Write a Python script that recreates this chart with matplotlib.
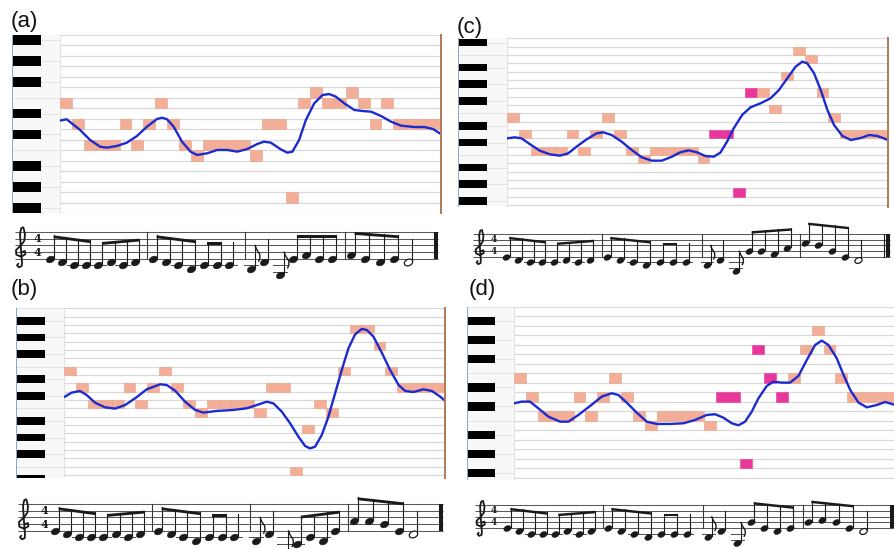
import numpy as np
import matplotlib
matplotlib.use("Agg")
import matplotlib.pyplot as plt
from matplotlib.patches import Rectangle, Polygon
from matplotlib.path import Path
from matplotlib.transforms import Affine2D
from matplotlib import font_manager
from matplotlib.ft2font import FT2Font

plt.rcParams['font.family'] = ['Liberation Sans', 'DejaVu Sans']

W, H = 895, 549
fig = plt.figure(figsize=(W / 100, H / 100), dpi=100)

# ---------------------------------------------------------------- data
# melody (MIDI pitch, duration in eighth notes); first two bars shared
intro_pitches = [64, 62, 60, 60, 60, 62, 60, 62, 64, 62, 60, 59, 60, 60, 60]
intro_durs = [1, 1, 1, 1, 1, 1, 1, 1, 1, 1, 1, 1, 1, 1, 2]
end_durs = [1, 2, 1, 1, 1, 1, 1, 1, 1, 1, 1, 4]
a_end_pitches = [59, 62, 55, 64, 65, 64, 64, 65, 64, 62, 64, 62]
b_end_pitches = [59, 62, 52, 57, 60, 59, 64, 69, 69, 67, 64, 62]
c_end_pitches = [59, 62, 55, 67, 67, 65, 69, 72, 71, 67, 64, 62]
d_end_pitches = [59, 62, 55, 67, 64, 62, 64, 67, 69, 67, 64, 62]
a_end_edited = [0, 0, 0, 0, 0, 0, 0, 0, 0, 0, 0, 0]
b_end_edited = [0, 0, 0, 0, 0, 0, 0, 0, 0, 0, 0, 0]
c_end_edited = [0, 1, 1, 1, 0, 0, 0, 0, 0, 0, 0, 0]
d_end_edited = [0, 1, 1, 1, 1, 1, 0, 0, 0, 0, 0, 0]

# pitch contours (time in eighths, pitch in semitones)
a_curve_t = [0, 0.56, 1.69, 2.53, 3.37, 3.93, 4.78, 5.62, 6.46, 7.3, 8.15, 8.57, 8.99, 9.55, 10.25,
             10.96, 11.52, 12.36, 13.2, 14.04, 14.89, 15.73, 16.57, 17.13, 17.7, 18.54, 19.1, 19.52,
             20.08, 20.65, 21.35, 22.05, 22.61, 23.17, 23.88, 24.72, 25.42, 26.12, 26.97, 27.81,
             28.65, 29.78, 30.62, 31.32, 32]
a_curve_p = [62.32, 62.45, 61.43, 60.47, 59.83, 59.74, 59.9, 60.22, 60.85, 61.74, 62.48, 62.6, 62.45,
             61.74, 60.31, 59.36, 59.04, 59.2, 59.52, 59.52, 59.36, 59.61, 60.09, 60.31, 60.22, 59.58,
             59.26, 59.36, 60.47, 62.38, 63.97, 64.77, 64.86, 64.61, 63.97, 63.34, 63.24, 63.18, 62.76,
             62.22, 61.84, 61.71, 61.71, 61.52, 61.04]
b_curve_t = [0.08, 0.64, 1.34, 1.9, 2.61, 3.45, 4.29, 5.13, 5.97, 6.95, 8.07, 8.63, 9.33, 10.17, 11.01,
             11.71, 12.83, 14.23, 15.35, 16.19, 17.03, 17.59, 18.29, 18.99, 19.69, 20.25, 20.67, 21.09,
             21.65, 22.21, 22.77, 23.33, 23.89, 24.45, 25.01, 25.43, 25.99, 26.69, 27.39, 28.1, 28.66,
             29.36, 30.2, 30.9, 31.6, 32]
b_curve_p = [60.9, 61.38, 61.58, 61.1, 60.18, 59.62, 59.47, 59.9, 60.7, 61.78, 62.38, 62.3, 61.62, 60.3,
             59.31, 58.99, 59.19, 59.31, 59.51, 59.9, 60.3, 60.1, 59.11, 57.71, 56.11, 54.99, 54.71,
             54.91, 56.31, 58.51, 61.3, 64.1, 66.69, 68.37, 69.01, 68.89, 68.09, 66.17, 64.1, 62.3,
             61.58, 61.46, 61.78, 61.58, 60.9, 60.42]
c_curve_t = [0, 0.65, 1.21, 1.91, 2.75, 3.6, 4.44, 5.14, 5.84, 6.69, 7.53, 8.09, 8.79, 9.63, 10.48,
             11.32, 12.16, 13.01, 13.85, 14.55, 15.25, 15.96, 16.66, 17.36, 17.92, 18.48, 19.04, 19.75,
             20.45, 21.29, 22.13, 22.84, 23.54, 24.24, 24.8, 25.22, 25.79, 26.35, 26.91, 27.47, 28.17,
             28.88, 29.72, 30.42, 31.12, 32]
c_curve_p = [61.5, 61.62, 61.5, 60.82, 60.02, 59.58, 59.42, 59.7, 60.5, 61.38, 62.1, 62.22, 61.9, 61.1,
             60.1, 59.22, 58.82, 58.82, 59.3, 59.82, 60.06, 59.82, 59.38, 59.3, 59.78, 61.1, 62.7, 64.3,
             65.22, 65.7, 66.3, 67.3, 68.7, 70.1, 70.7, 70.5, 69.3, 67.3, 64.9, 63.1, 61.78, 61.3,
             61.54, 61.9, 61.78, 61.3]
d_curve_t = [0, 0.64, 1.34, 2.04, 2.89, 3.87, 4.57, 5.41, 6.39, 7.37, 8.21, 8.77, 9.47, 10.31, 11.15,
             11.99, 13.11, 14.23, 15.21, 16.19, 16.89, 17.59, 18.29, 18.85, 19.41, 19.97, 20.53, 21.23,
             21.79, 22.49, 23.19, 23.89, 24.59, 25.29, 25.85, 26.41, 27.11, 27.68, 28.24, 28.94, 29.64,
             30.48, 31.18, 32]
d_curve_p = [61.33, 61.51, 61.51, 60.81, 59.93, 59.4, 59.4, 60.11, 61.05, 62.04, 62.39, 62.21, 61.4,
             60.35, 59.4, 59.16, 59.16, 59.23, 59.58, 60.11, 60.18, 59.82, 59.23, 59.02, 59.4, 60.46,
             61.86, 63.16, 63.61, 63.51, 63.51, 64.21, 65.89, 67.47, 67.93, 67.47, 66.07, 64.32, 62.74,
             61.4, 60.91, 61.16, 61.47, 61.16]
panel_labels = ['(a)', '(b)', '(c)', '(d)']

SALMON = '#f2ae96'
SALMON_EDGE = '#e9a088'
MAGENTA = '#e8369b'
BLUE = '#1c2bd0'
GRID = '#d9d9d9'
BORDER = '#b07a5a'
INK = '#1a1a1a'


def px_axes(x0, y0, x1, y1):
    ax = fig.add_axes([x0 / W, 1 - y1 / H, (x1 - x0) / W, (y1 - y0) / H])
    ax.set_axis_off()
    return ax


def draw_keys(box, ylim):
    ax = px_axes(*box)
    ax.set_xlim(0, 1)
    ax.set_ylim(*ylim)
    ax.add_patch(Rectangle((0, ylim[0]), 1, ylim[1] - ylim[0], fc='#f8f8f8', ec='none', zorder=0))
    for p in range(int(np.floor(ylim[0])) - 1, int(np.ceil(ylim[1])) + 2):
        pc = p % 12
        if pc in (1, 3, 6, 8, 10):
            ax.add_patch(Rectangle((0.02, p - 0.46), 0.58, 0.92, fc='black', ec='none', zorder=2))
            ax.plot([0.6, 1], [p, p], color='#e4e4e4', lw=0.7, zorder=1)
        if pc in (0, 5):
            ax.plot([0, 1], [p - 0.5, p - 0.5], color='#e4e4e4', lw=0.7, zorder=1)
    ax.plot([0.01, 0.01], ylim, color='#8ea5bd', lw=1.4, zorder=3)


def draw_roll(box, ylim, pitches, durs, edited, ct, cp, border=True):
    ax = px_axes(*box)
    ax.set_xlim(0, 32)
    ax.set_ylim(*ylim)
    for p in range(int(np.floor(ylim[0])) - 1, int(np.ceil(ylim[1])) + 1):
        ax.axhline(p + 0.5, color=GRID, lw=0.9, zorder=1)
    ax.axvline(0, color='#e2e2e2', lw=0.8, zorder=1)
    onset = 0
    for p, d, e in zip(pitches, durs, edited):
        fc = MAGENTA if e else SALMON
        ec = MAGENTA if e else SALMON_EDGE
        ax.add_patch(Rectangle((onset, p - 0.5), d, 1, fc=fc, ec=ec, lw=0.4, zorder=2))
        onset += d
    ax.plot(ct, cp, color=BLUE, lw=1.7, zorder=3, solid_joinstyle='round')
    if border:
        ax.axvline(32, color=BORDER, lw=1.4, zorder=4, clip_on=False)


def step_of(midi):
    letters = {0: 0, 2: 1, 4: 2, 5: 3, 7: 4, 9: 5, 11: 6}
    octave = midi // 12 - 1
    return (octave - 4) * 7 + letters[midi % 12] - 2


def font_has(family, ch):
    try:
        path = font_manager.findfont(font_manager.FontProperties(family=family),
                                     fallback_to_default=False)
        return FT2Font(path).get_char_index(ord(ch)) != 0
    except Exception:
        return False


CLEF = '\U0001D11E'
clef_font = None
for fam in ['DejaVu Sans', 'DejaVu Serif', 'Noto Sans', 'Liberation Sans']:
    if font_has(fam, CLEF):
        clef_font = fam
        break

HEAD = Path.unit_circle().transformed(Affine2D().scale(1.0, 0.72).rotate_deg(25))


def draw_clef(ax, x, space):
    if clef_font is not None:
        ax.text(x, 3.2, CLEF, family=[clef_font], fontsize=space * 4.6 * 0.72,
                ha='center', va='center', color=INK)
        return
    # hand-drawn treble clef (units: staff spaces; y relative to bottom line, in steps)
    pts = [(0.15, 2.0), (0.6, 2.3), (0.65, 1.3), (0.0, 0.6), (-0.7, 1.2), (-0.75, 2.6), (0.0, 4.0),
           (0.5, 5.4), (0.6, 7.4), (0.35, 9.4), (0.05, 9.2), (-0.15, 7.6), (-0.05, 4.0), (0.15, -1.2),
           (0.1, -2.2), (-0.3, -2.6), (-0.6, -2.0), (-0.4, -1.5)]
    xs = [x + px * space for px, _ in pts]
    ys = [py for _, py in pts]
    ax.plot(xs, ys, color=INK, lw=1.3, solid_capstyle='round', solid_joinstyle='round')


def draw_staff(x0, x1, top_y, space, bars, pitches, durs, clef_x, ts_x, ts_size, end_double):
    half = space / 2.0
    bottom_y = top_y + 4 * space
    s_lo, s_hi = -14.0, 14.0
    ax = px_axes(x0 - 3, bottom_y - s_hi * half, x1 + 3, bottom_y - s_lo * half)
    ax.set_xlim(x0 - 3, x1 + 3)
    ax.set_ylim(s_lo, s_hi)
    for s in range(0, 10, 2):
        ax.plot([x0, x1], [s, s], color='#5a5a5a', lw=0.75, solid_capstyle='butt', zorder=1)
    draw_clef(ax, clef_x, space)
    for yv in (6, 2):
        ax.text(ts_x, yv, '4', fontsize=ts_size, fontweight='bold', ha='center', va='center',
                color=INK, family=['DejaVu Serif'])
    for b in bars[1:4]:
        ax.plot([b, b], [0, 8], color='#3a3a3a', lw=0.8, zorder=1)
    if end_double:
        ax.plot([x1 - 5.5, x1 - 5.5], [0, 8], color=INK, lw=0.8)
    ax.add_patch(Rectangle((x1 - 3.5, 0), 3.5, 8, fc=INK, ec='none'))

    n = len(durs)
    onsets = np.cumsum([0] + list(durs[:-1]))
    pad = 6 * space / 6.67
    xs = [0.0] * n
    for bar in range(4):
        idx = [i for i in range(n) if bar * 8 <= onsets[i] < (bar + 1) * 8]
        units = [durs[i] ** 0.3 for i in idx]
        stepx = (bars[bar + 1] - bars[bar] - pad) / sum(units)
        x = bars[bar] + pad
        for i, u in zip(idx, units):
            xs[i] = x
            x += u * stepx
    steps = [step_of(p) for p in pitches]
    head_w = 1.3 * space
    ms = head_w * 0.72
    stem_dx = head_w * 0.46

    for i in range(n):
        s = steps[i]
        if s <= -2:
            for l in range(-2, s - 1, -2):
                ax.plot([xs[i] - 0.85 * head_w, xs[i] + 0.85 * head_w], [l, l],
                        color='#4a4a4a', lw=0.7, zorder=2)
        filled = durs[i] < 4
        ax.plot([xs[i]], [s], marker=HEAD, markersize=ms, color=INK,
                markerfacecolor=INK if filled else 'white', markeredgecolor=INK,
                markeredgewidth=0.9 if not filled else 0.3, zorder=4, linestyle='none')

    groups = []
    for i in range(n):
        if (durs[i] == 1 and groups and durs[groups[-1][-1]] == 1
                and onsets[groups[-1][-1]] + 1 == onsets[i]
                and onsets[groups[-1][0]] // 4 == onsets[i] // 4):
            groups[-1].append(i)
        else:
            groups.append([i])

    for g in groups:
        if len(g) == 1:
            i = g[0]
            xs_ = xs[i] + stem_dx
            top = steps[i] + 7
            ax.plot([xs_, xs_], [steps[i] + 0.3, top], color=INK, lw=0.8, zorder=3)
            if durs[i] == 1:
                fx = [xs_, xs_ + 0.25 * space, xs_ + 0.7 * space, xs_ + 0.75 * space,
                      xs_ + 0.55 * space]
                fy = [top, top - 1.2, top - 2.6, top - 3.8, top - 4.8]
                ax.plot(fx, fy, color=INK, lw=1.0, zorder=3, solid_capstyle='round')
            continue
        xa = xs[g[0]] + stem_dx
        xb = xs[g[-1]] + stem_dx
        ya = steps[g[0]] + 7
        yb = ya + float(np.clip(steps[g[-1]] - steps[g[0]], -1.5, 1.5))

        def beam_y(xv):
            return ya + (yb - ya) * (xv - xa) / (xb - xa)

        need = max(steps[i] + 6 - beam_y(xs[i] + stem_dx) for i in g)
        if need > 0:
            ya += need
            yb += need
        for i in g:
            xv = xs[i] + stem_dx
            ax.plot([xv, xv], [steps[i] + 0.3, beam_y(xv)], color=INK, lw=0.8, zorder=3)
        thick = 0.85
        ax.add_patch(Polygon([(xa - 0.4, ya), (xb + 0.4, yb), (xb + 0.4, yb - thick),
                              (xa - 0.4, ya - thick)], closed=True, fc=INK, ec='none', zorder=3))


panels = [
    dict(label=(24, 21), keys=(12, 35, 60, 213), grid=(60, 35, 441, 213), ylim=(53.5, 70.5),
         end=a_end_pitches, edited=a_end_edited, ct=a_curve_t, cp=a_curve_p, border=True,
         staff=dict(x0=15, x1=438, top_y=232, space=6.67, bars=[44, 147, 245, 345, 430],
                    clef_x=21, ts_x=37, ts_size=8, end_double=False)),
    dict(label=(24, 290), keys=(16, 308, 64, 478), grid=(64, 308, 445, 478), ylim=(51.16, 71.52),
         end=b_end_pitches, edited=b_end_edited, ct=b_curve_t, cp=b_curve_p, border=True,
         staff=dict(x0=18, x1=443, top_y=504, space=6.67, bars=[49, 152, 250, 348, 436],
                    clef_x=24, ts_x=44.5, ts_size=8, end_double=False)),
    dict(label=(470, 27), keys=(458, 38, 507, 207), grid=(507, 38, 888, 207), ylim=(53.26, 73.54),
         end=c_end_pitches, edited=c_end_edited, ct=c_curve_t, cp=c_curve_p, border=True,
         staff=dict(x0=473, x1=890, top_y=234, space=5.7, bars=[501, 602, 702, 800, 878],
                    clef_x=480, ts_x=493.5, ts_size=6.5, end_double=True)),
    dict(label=(482, 290), keys=(467, 307, 514, 480), grid=(514, 307, 895, 480), ylim=(53.26, 71.47),
         end=d_end_pitches, edited=d_end_edited, ct=d_curve_t, cp=d_curve_p, border=False,
         staff=dict(x0=475, x1=894, top_y=505, space=5.83, bars=[502, 603, 703, 803, 884],
                    clef_x=481, ts_x=494, ts_size=6.5, end_double=False)),
]

for lab, pn in zip(panel_labels, panels):
    pitches = intro_pitches + pn['end']
    durs = intro_durs + end_durs
    edited = [0] * len(intro_pitches) + pn['edited']
    draw_keys(pn['keys'], pn['ylim'])
    draw_roll(pn['grid'], pn['ylim'], pitches, durs, edited, pn['ct'], pn['cp'], pn['border'])
    st = pn['staff']
    draw_staff(st['x0'], st['x1'], st['top_y'], st['space'], st['bars'], pitches, durs,
               st['clef_x'], st['ts_x'], st['ts_size'], st['end_double'])
    fig.text(pn['label'][0] / W, 1 - pn['label'][1] / H, lab, fontsize=16, ha='center',
             va='center', color='#111111')

fig.savefig('out.png', dpi=100, facecolor='white')
